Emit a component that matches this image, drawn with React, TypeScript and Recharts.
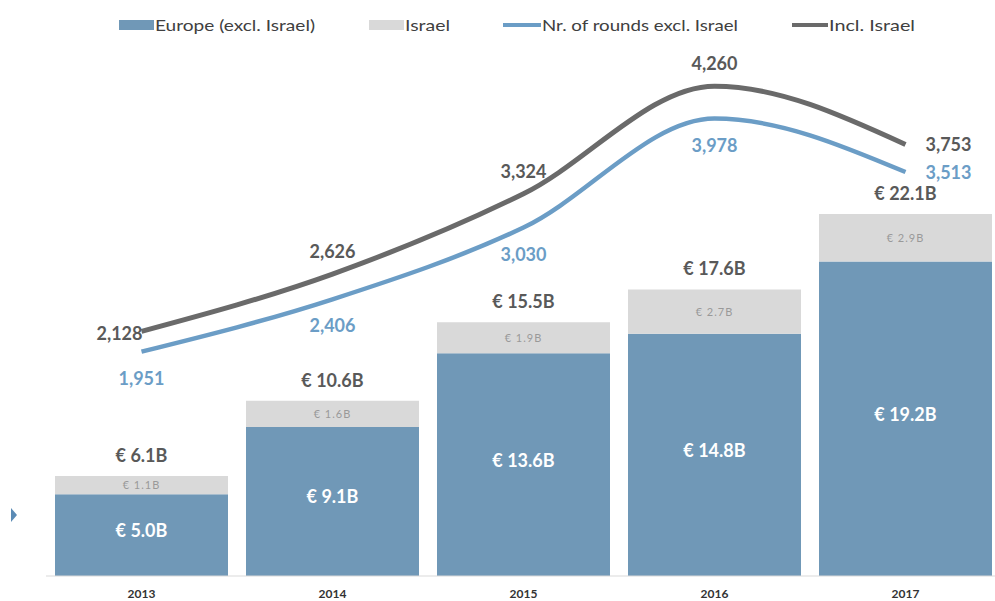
import React from 'react';
import {
    ComposedChart,
    Bar,
    Line,
    XAxis,
    YAxis,
    LabelList
} from 'recharts';

// values
const years = ['2013', '2014', '2015', '2016', '2017'];
const europeB = [5.0, 9.1, 13.6, 14.8, 19.2];
const israelB = [1.1, 1.6, 1.9, 2.7, 2.9];
const totalB = [6.1, 10.6, 15.5, 17.6, 22.1];
const roundsExcl = [1951, 2406, 3030, 3978, 3513];
const roundsIncl = [2128, 2626, 3324, 4260, 3753];

const BLUE_BAR = '#7098b7';
const GREY_BAR = '#d9d9d9';
const BLUE_LINE = '#6b9dc6';
const GREY_LINE = '#6a6a6a';
const FONT = 'Lato, "Open Sans", sans-serif';

const data = years.map((year, i) => ({
    year,
    europe: europeB[i],
    israel: israelB[i],
    total: totalB[i],
    excl: roundsExcl[i],
    incl: roundsIncl[i]
}));

const fmtB = (v: number) => `€ ${v.toFixed(1)}B`;
const fmtN = (v: number) => v.toLocaleString('en-US');

const TotalLabel = (props: any) => {
    const { x, y, width, value } = props;
    return (
        <text x={x + width / 2} y={y - 14} textAnchor="middle" fill="#595959"
            fontFamily={FONT} fontWeight={700} fontSize={18}>
            {fmtB(value)}
        </text>
    );
};

const IsraelLabel = (props: any) => {
    const { x, y, width, height, value } = props;
    return (
        <text x={x + width / 2} y={y + height / 2 + 4} textAnchor="middle" fill="#999999"
            fontFamily={FONT} fontSize={11} letterSpacing={1}>
            {fmtB(value)}
        </text>
    );
};

const EuropeLabel = (props: any) => {
    const { x, y, width, height, value } = props;
    return (
        <text x={x + width / 2} y={y + height / 2 + 2} textAnchor="middle" fill="#ffffff"
            fontFamily={FONT} fontWeight={700} fontSize={18}>
            {fmtB(value)}
        </text>
    );
};

// grey line labels sit above the points, first one to the left, last one to the right
const InclLabel = (props: any) => {
    const { x, y, value, index } = props;
    let tx = x, ty = y - 16, anchor: any = 'middle';
    if (index === 0) { tx = x + 1; ty = y + 9; anchor = 'end'; }
    if (index === years.length - 1) { tx = x + 20; ty = y + 7; anchor = 'start'; }
    return (
        <text x={tx} y={ty} textAnchor={anchor} fill="#595959"
            fontFamily={FONT} fontWeight={700} fontSize={18}>
            {fmtN(value)}
        </text>
    );
};

// blue line labels sit below the points, last one to the right
const ExclLabel = (props: any) => {
    const { x, y, value, index } = props;
    let tx = x, ty = y + 33, anchor: any = 'middle';
    if (index === years.length - 1) { tx = x + 20; ty = y + 7; anchor = 'start'; }
    return (
        <text x={tx} y={ty} textAnchor={anchor} fill={BLUE_LINE}
            fontFamily={FONT} fontWeight={700} fontSize={18}>
            {fmtN(value)}
        </text>
    );
};

const YearTick = (props: any) => {
    const { x, y, payload } = props;
    return (
        <text x={x} y={y + 14} textAnchor="middle" fill="#333333"
            fontFamily={FONT} fontWeight={700} fontSize={12}>
            {payload.value}
        </text>
    );
};

const legendItems = [
    { label: 'Europe (excl. Israel)', color: BLUE_BAR, kind: 'bar', x: 119, w: 35, tw: 160 },
    { label: 'Israel', color: GREY_BAR, kind: 'bar', x: 369, w: 35, tw: 45 },
    { label: 'Nr. of rounds excl. Israel', color: BLUE_LINE, kind: 'line', x: 503, w: 38, tw: 196 },
    { label: 'Incl. Israel', color: GREY_LINE, kind: 'line', x: 792, w: 36, tw: 86 }
];

const ChartLegend = () => (
    <svg width={995} height={50} style={{ position: 'absolute', left: 0, top: 0 }}>
        {legendItems.map(item => (
            <g key={item.label}>
                {item.kind === 'bar'
                    ? <rect x={item.x} y={20} width={item.w} height={10} fill={item.color} />
                    : <rect x={item.x} y={23} width={item.w} height={4} fill={item.color} />}
                <text x={item.x + item.w + 1} y={31} fill="#404040" fontFamily={FONT} fontSize={16}
                    textLength={item.tw} lengthAdjust="spacingAndGlyphs">
                    {item.label}
                </text>
            </g>
        ))}
    </svg>
);

const App = () => {
    return (
        <div style={{ position: 'absolute', left: 0, top: 0, width: 995, height: 601, overflow: 'hidden', background: '#fff' }}>
            <ChartLegend />
            {/* small arrow marker at the left edge */}
            <svg width={20} height={20} style={{ position: 'absolute', left: 8, top: 506 }}>
                <polygon points="3,2 9,9 3,16" fill="#5b8bb5" />
            </svg>
            <div style={{ position: 'absolute', left: 0, top: 0 }}>
                <ComposedChart
                    width={1001}
                    height={601}
                    data={data}
                    margin={{ top: 52, right: 0, left: 46, bottom: 0 }}
                    barCategoryGap={9}
                >
                    <XAxis
                        dataKey="year"
                        height={25}
                        tickLine={false}
                        axisLine={{ stroke: '#d9d9d9' }}
                        tick={<YearTick />}
                        interval={0}
                    />
                    <YAxis yAxisId="left" hide domain={[0, 32]} />
                    <YAxis yAxisId="right" hide orientation="right" domain={[0, 4557]} />

                    <Bar yAxisId="left" dataKey="europe" stackId="a" fill={BLUE_BAR} isAnimationActive={false}>
                        <LabelList dataKey="europe" content={<EuropeLabel />} />
                    </Bar>
                    <Bar yAxisId="left" dataKey="israel" stackId="a" fill={GREY_BAR} isAnimationActive={false}>
                        <LabelList dataKey="israel" content={<IsraelLabel />} />
                        <LabelList dataKey="total" content={<TotalLabel />} />
                    </Bar>

                    <Line
                        yAxisId="right"
                        type="monotone"
                        dataKey="excl"
                        stroke={BLUE_LINE}
                        strokeWidth={4.5}
                        dot={false}
                        isAnimationActive={false}
                    >
                        <LabelList dataKey="excl" content={<ExclLabel />} />
                    </Line>
                    <Line
                        yAxisId="right"
                        type="monotone"
                        dataKey="incl"
                        stroke={GREY_LINE}
                        strokeWidth={5}
                        dot={false}
                        isAnimationActive={false}
                    >
                        <LabelList dataKey="incl" content={<InclLabel />} />
                    </Line>
                </ComposedChart>
            </div>
        </div>
    );
};

export default App;
